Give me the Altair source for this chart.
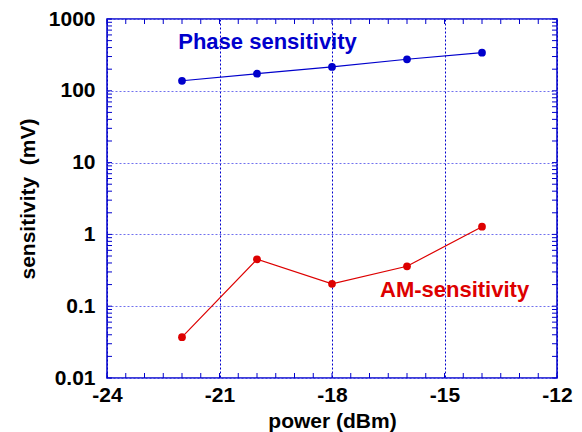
import altair as alt
import pandas as pd

# ---- data ----
power = [-22, -20, -18, -16, -14]
phase_sens = [138, 173, 215, 275, 340]
am_sens = [0.037, 0.45, 0.205, 0.36, 1.28]

x_major = [-24, -21, -18, -15, -12]
y_major = [0.01, 0.1, 1, 10, 100, 1000]
x_minor = [-24 + 0.5 * i for i in range(25)]
y_minor = [m * 10 ** e for e in range(-2, 3) for m in range(1, 10)] + [1000]

labels = ["Phase sensitivity", "AM-sensitivity"]
label_x = [-22.1, -16.72]
label_y = [480, 0.168]
label_color = ["#0000cc", "#dd0000"]

BLUE = "#0000cc"
RED = "#dd0000"
FONT = "Liberation Sans"
W, H = 450, 359

xscale = alt.Scale(domain=[-24, -12], nice=False, zero=False)
yscale = alt.Scale(type="log", domain=[0.01, 1000], nice=False)

df = pd.DataFrame({"power": power, "phase": phase_sens, "am": am_sens})
xm = pd.DataFrame({"v": x_minor})
ym = pd.DataFrame({"v": y_minor})
lab = pd.DataFrame({"t": labels, "x": label_x, "y": label_y, "c": label_color})

xaxis = alt.Axis(
    values=x_major, grid=True, gridColor=BLUE, gridDash=[2, 2], gridWidth=1,
    ticks=False, domain=False, labelExpr="'' + datum.value",
    labelFlush=False, labelOverlap=False,
    labelFont=FONT, labelFontSize=21, labelFontWeight="bold", labelColor="black",
    labelPadding=6, title="power (dBm)", titleFont=FONT, titleFontSize=21,
    titleFontWeight="bold", titleColor="black",
    titleBaseline="alphabetic", titleY=49,
)
yaxis = alt.Axis(
    values=y_major, grid=True, gridColor="#7070ee", gridDash=[2, 2], gridWidth=1,
    ticks=False, domain=False, format="~g",
    labelFlush=False, labelOverlap=False,
    labelFont=FONT, labelFontSize=21, labelFontWeight="bold", labelColor="black",
    labelPadding=12, title="sensitivity\u00a0 (mV)", titleFont=FONT, titleFontSize=21,
    titleFontWeight="bold", titleColor="black", titlePadding=10,
)


def X(f):
    return alt.X(f, scale=xscale, axis=xaxis)


def Y(f):
    return alt.Y(f, scale=yscale, axis=yaxis)


base = alt.Chart(df)

phase_line = base.mark_line(color=BLUE, strokeWidth=1.2).encode(x=X("power:Q"), y=Y("phase:Q"))
phase_pts = base.mark_circle(color=BLUE, size=60, opacity=1).encode(x=X("power:Q"), y=Y("phase:Q"))
am_line = base.mark_line(color=RED, strokeWidth=1.2).encode(x=X("power:Q"), y=Y("am:Q"))
am_pts = base.mark_circle(color=RED, size=60, opacity=1).encode(x=X("power:Q"), y=Y("am:Q"))

tick_style = dict(color=BLUE, strokeWidth=1)
xb = alt.Chart(xm).mark_rule(**tick_style).encode(x=X("v:Q"), y=alt.value(H), y2=alt.value(H - 5))
xt = alt.Chart(xm).mark_rule(**tick_style).encode(x=X("v:Q"), y=alt.value(0), y2=alt.value(5))
yl = alt.Chart(ym).mark_rule(**tick_style).encode(y=Y("v:Q"), x=alt.value(0), x2=alt.value(5))
yr = alt.Chart(ym).mark_rule(**tick_style).encode(y=Y("v:Q"), x=alt.value(W), x2=alt.value(W - 5))

texts = alt.Chart(lab).mark_text(
    font=FONT, fontSize=22, fontWeight="bold", align="left", baseline="middle"
).encode(
    x=X("x:Q"),
    y=Y("y:Q"),
    color=alt.Color("c:N", scale=None),
    text="t:N",
)

chart = alt.layer(
    phase_line, xb, xt, yl, yr, phase_pts, am_line, am_pts, texts
).properties(
    width=W, height=H,
    autosize=alt.AutoSizeParams(type="none"),
    padding={"left": 99, "top": 11, "right": 17, "bottom": 54},
    background="white",
).configure_view(stroke=BLUE, strokeWidth=1.5)

chart.save("out.html", embed_options={"renderer": "svg", "actions": False})
